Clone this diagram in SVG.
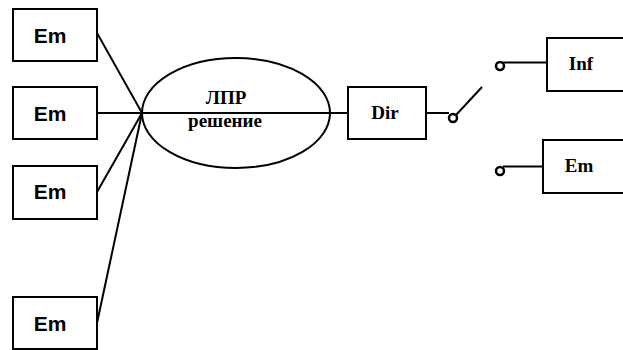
<svg xmlns="http://www.w3.org/2000/svg" width="623" height="350" viewBox="0 0 623 350">
<style>
.box{fill:#fff;stroke:#000;stroke-width:2}
.ln{fill:none;stroke:#000;stroke-width:2}
.sw{fill:none;stroke:#000;stroke-width:2.5}
.sans{font-family:"Liberation Sans",Arial,sans-serif;font-weight:bold;font-size:21px;text-anchor:middle}
.serif{font-family:"Liberation Serif","Times New Roman",serif;font-weight:bold;font-size:19px;text-anchor:middle}
</style>
<rect width="623" height="350" fill="#fff"/>
<g id="connectors">
<line class="ln" x1="97" y1="33" x2="142" y2="113"/>
<line class="ln" x1="97" y1="113" x2="348" y2="113"/>
<line class="ln" x1="97" y1="192" x2="142" y2="113"/>
<line class="ln" x1="97" y1="323" x2="142" y2="113"/>
<line class="ln" x1="426" y1="113" x2="449" y2="113"/>
<circle class="sw" cx="453" cy="118" r="4"/>
<line class="ln" x1="456" y1="115" x2="482" y2="87"/>
<circle class="sw" cx="500" cy="66" r="4"/>
<line class="ln" x1="503" y1="62.5" x2="546" y2="62.5"/>
<circle class="sw" cx="500" cy="171" r="4"/>
<line class="ln" x1="503" y1="166.5" x2="543" y2="166.5"/>
</g>
<g id="em1"><rect class="box" x="13" y="9" width="84" height="52"/><text class="sans" x="50" y="43">Em</text></g>
<g id="em2"><rect class="box" x="13" y="87" width="84" height="52"/><text class="sans" x="50" y="121">Em</text></g>
<g id="em3"><rect class="box" x="13" y="166" width="84" height="53"/><text class="sans" x="50" y="199">Em</text></g>
<g id="em4"><rect class="box" x="13" y="297" width="84" height="52"/><text class="sans" x="50" y="331">Em</text></g>
<g id="lpr"><ellipse class="ln" cx="236" cy="113" rx="94" ry="55"/><text class="serif" x="226" y="104">ЛПР</text><text class="serif" x="225" y="127">решение</text></g>
<g id="dir"><rect class="box" x="348" y="87" width="78" height="52"/><text class="serif" x="385" y="119">Dir</text></g>
<g id="inf"><rect class="box" x="547" y="38" width="90" height="53"/><text class="serif" x="581" y="70">Inf</text></g>
<g id="em5"><rect class="box" x="543" y="140" width="90" height="53"/><text class="serif" x="579" y="172">Em</text></g>
</svg>
